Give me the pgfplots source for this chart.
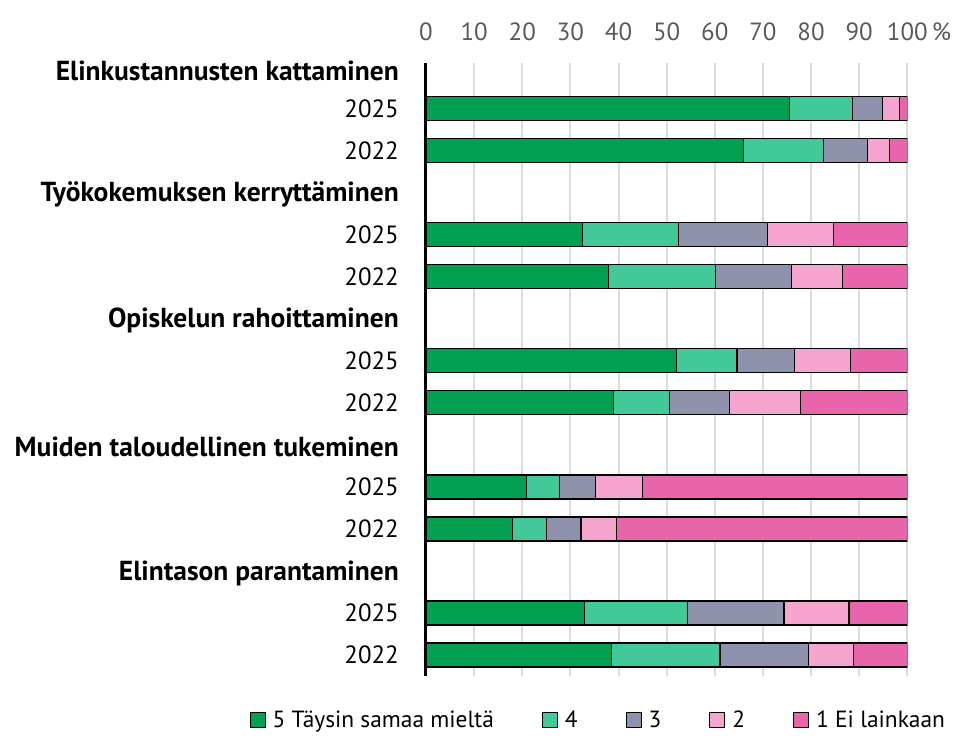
\documentclass[border=0pt]{standalone}
\usepackage{fontspec}
\setmainfont{PT Sans}
\usepackage{pgfplots}
\usepackage{pgfplotstable}
\pgfplotsset{compat=1.18}
\definecolor{c5}{HTML}{00A050}
\definecolor{c4}{HTML}{43C89A}
\definecolor{c3}{HTML}{8E92AC}
\definecolor{c2}{HTML}{F5A5CD}
\definecolor{c1}{HTML}{E865AB}
\definecolor{tickgray}{HTML}{595959}
\newcommand{\hd}[1]{{\fontsize{27.6}{30}\selectfont\bfseries #1}}
\pgfplotstableread{
y c5 c4 c3 c2 c1
1 75.6 13.0 6.3 3.4 1.7
2 66.0 16.6 9.1 4.6 3.7
4 32.5 19.9 18.6 13.7 15.3
5 37.9 22.2 15.9 10.5 13.5
7 52.0 12.6 11.9 11.7 11.8
8 38.9 11.7 12.5 14.7 22.2
10 20.8 7.0 7.4 9.7 55.1
11 18.0 7.1 7.1 7.3 60.5
13 33.0 21.4 20.0 13.5 12.1
14 38.5 22.6 18.3 9.4 11.2
}\data
\begin{document}
\begin{tikzpicture}
\useasboundingbox (-426bp,-67bp) rectangle (531bp,676bp);
\begin{axis}[
  at={(0,0)}, anchor=south west,
  scale only axis, width=481.3bp, height=612.7bp,
  xbar stacked, bar width=24bp,
  xmin=0, xmax=100, ymin=-0.08, ymax=14.5, y dir=reverse,
  axis x line*=top, axis y line*=left,
  x axis line style={draw=none},
  y axis line style={draw=black, line width=3bp},
  xtick={0,10,...,100},
  xticklabels={0,10,20,30,40,50,60,70,80,90,100\rlap{\,\%}},
  xmajorgrids, grid style={color=black!14, line width=2bp},
  xtick style={draw=none}, ytick style={draw=none},
  ytick={0.1,1,2,3.05,4,5,6.05,7,8,9.05,10,11,12.05,13,14},
  yticklabels={\hd{Elinkustannusten kattaminen},2025,2022,
    \hd{Työkokemuksen kerryttäminen},2025,2022,
    \hd{Opiskelun rahoittaminen},2025,2022,
    \hd{Muiden taloudellinen tukeminen},2025,2022,
    \hd{Elintason parantaminen},2025,2022},
  /pgf/number format/assume math mode=true,
  xticklabel style={font=\fontsize{25}{29}\selectfont, text=tickgray, inner sep=0pt, anchor=south, yshift=22bp},
  yticklabel style={font=\fontsize{25}{29}\selectfont, text=black, inner sep=0pt, anchor=east, xshift=-27bp},
  legend columns=-1,
  legend style={at={(0.358,-0.072)}, anchor=center, draw=none, fill=none,
    font=\fontsize{23.5}{27}\selectfont,
    /tikz/every odd column/.append style={column sep=5bp},
    /tikz/every even column/.append style={column sep=46bp}},
  legend image code/.code={\draw[#1, line width=1bp] (0bp,-7.5bp) rectangle (15bp,7.5bp);},
]
\addplot[fill=c5, draw=black, line width=1.2bp] table[x=c5, y=y] {\data};
\addplot[fill=c4, draw=black, line width=1.2bp] table[x=c4, y=y] {\data};
\addplot[fill=c3, draw=black, line width=1.2bp] table[x=c3, y=y] {\data};
\addplot[fill=c2, draw=black, line width=1.2bp] table[x=c2, y=y] {\data};
\addplot[fill=c1, draw=black, line width=1.2bp] table[x=c1, y=y] {\data};
\legend{5 Täysin samaa mieltä,4,3,2,1 Ei lainkaan}
\end{axis}
\end{tikzpicture}
\end{document}
